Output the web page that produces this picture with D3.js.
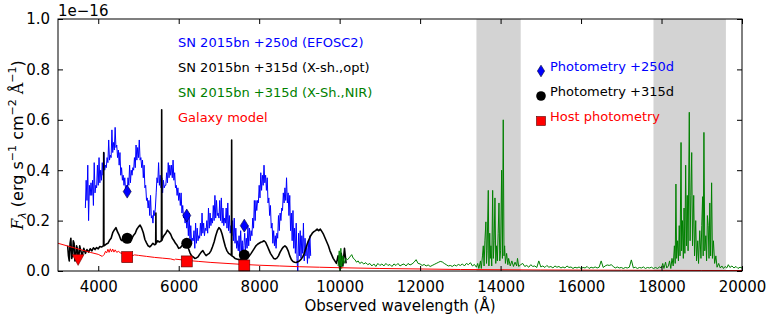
<!DOCTYPE html>
<html>
<head>
<meta charset="utf-8">
<script src="https://cdn.jsdelivr.net/npm/d3@7/dist/d3.min.js"></script>
<style>
  body { margin: 0; background: #fff; }
  svg text { font-family: "DejaVu Sans", sans-serif; }
</style>
</head>
<body>
<div id="chart"></div>
<script>
// ---- data (flux in units of 1e-16 erg/s/cm2/A) ----
const xTicks = [4000, 6000, 8000, 10000, 12000, 14000, 16000, 18000, 20000];
const yTicks = [0.0, 0.2, 0.4, 0.6, 0.8, 1.0];
const telluricBands = [[13400, 14500], [17800, 19600]];

const efosc250 = [[3680,.25],[3700,.36],[3720,.28],[3740,.42],[3760,.20],[3780,.34],[3800,.30],[3820,.35],
  [3840,.30],[3860,.36],[3880,.26],[3900,.43],[3920,.31],[3940,.34],[3960,.33],[3980,.42],[4000,.34],[4020,.45],
  [4040,.35],[4060,.40],[4080,.36],[4100,.43],[4120,.38],[4140,.47],[4160,.40],[4180,.42],[4200,.41],[4220,.45],
  [4240,.43],[4260,.52],[4280,.44],[4300,.46],[4320,.45],[4340,.56],[4360,.47],[4380,.51],[4400,.48],[4420,.57],
  [4440,.49],[4460,.50],[4480,.45],[4500,.48],[4520,.42],[4540,.47],[4560,.38],[4580,.41],[4600,.36],[4620,.38],
  [4640,.34],[4660,.37],[4680,.32],[4700,.34],[4720,.31],[4740,.37],[4760,.34],[4780,.42],[4800,.35],[4820,.40],
  [4840,.38],[4860,.41],[4880,.40],[4900,.45],[4920,.41],[4940,.50],[4960,.44],[4980,.49],[5000,.45],[5020,.52],
  [5040,.44],[5060,.45],[5080,.41],[5100,.44],[5120,.37],[5140,.42],[5160,.33],[5180,.34],[5200,.28],[5220,.29],
  [5240,.25],[5260,.28],[5280,.22],[5300,.30],[5320,.21],[5340,.22],[5360,.19],[5380,.24],[5400,.22],[5420,.25],
  [5440,.31],[5460,.37],[5480,.35],[5500,.43],[5520,.34],[5540,.38],[5560,.33],[5580,.37],[5600,.31],[5620,.36],
  [5640,.33],[5660,.34],[5680,.34],[5700,.39],[5720,.35],[5740,.43],[5760,.37],[5780,.42],[5800,.38],[5820,.42],
  [5840,.37],[5860,.44],[5880,.36],[5900,.39],[5920,.33],[5940,.34],[5960,.30],[5980,.33],[6000,.28],[6020,.31],
  [6040,.26],[6060,.31],[6080,.23],[6100,.26],[6120,.21],[6140,.22],[6160,.19],[6180,.23],[6200,.17],[6220,.21],
  [6240,.14],[6260,.23],[6280,.12],[6300,.18],[6320,.11],[6340,.13],[6360,.12],[6380,.16],[6400,.09],[6420,.19],
  [6440,.11],[6460,.17],[6480,.12],[6500,.14],[6520,.13],[6540,.19],[6560,.14],[6580,.23],[6600,.15],[6620,.19],
  [6640,.14],[6660,.17],[6680,.16],[6700,.20],[6720,.15],[6740,.25],[6760,.17],[6780,.23],[6800,.18],[6820,.21],
  [6840,.19],[6860,.26],[6880,.20],[6900,.30],[6920,.21],[6940,.28],[6960,.22],[6980,.23],[7000,.21],[7020,.28],
  [7040,.20],[7060,.29],[7080,.19],[7100,.25],[7120,.18],[7140,.21],[7160,.19],[7180,.25],[7200,.17],[7220,.27],
  [7240,.16],[7260,.22],[7280,.15],[7300,.18],[7320,.14],[7340,.20],[7360,.12],[7380,.21],[7400,.11],[7420,.17],
  [7440,.09],[7460,.12],[7480,.08],[7500,.14],[7520,.07],[7540,.16],[7560,.08],[7580,.12],[7600,.00],[7620,.10],
  [7640,.15],[7660,.08],[7680,.13],[7700,.09],[7720,.18],[7740,.10],[7760,.17],[7780,.12],[7800,.16],[7820,.14],
  [7840,.21],[7860,.17],[7880,.28],[7900,.20],[7920,.28],[7940,.24],[7960,.28],[7980,.27],[8000,.34],[8020,.29],
  [8040,.39],[8060,.32],[8080,.38],[8100,.34],[8120,.42],[8140,.35],[8160,.38],[8180,.32],[8200,.37],[8220,.27],
  [8240,.29],[8260,.22],[8280,.26],[8300,.17],[8320,.19],[8340,.11],[8360,.16],[8380,.10],[8400,.14],[8420,.09],
  [8440,.15],[8460,.13],[8480,.22],[8500,.16],[8520,.23],[8540,.20],[8560,.25],[8580,.24],[8600,.31],[8620,.27],
  [8640,.33],[8660,.28],[8680,.37],[8700,.27],[8720,.31],[8740,.22],[8760,.30],[8780,.16],[8800,.23],[8820,.12],
  [8840,.24],[8860,.09],[8880,.17],[8900,.07],[8920,.19],[8940,.05],[8960,-.01],[8980,.15],[9000,.06],[9020,.16],
  [9040,.05],[9060,.14],[9080,.07],[9100,.19],[9120,.04],[9140,.13],[9160,.06],[9180,.10],[9200,.03],[9220,.12],
  [9240,.05],[9260,.14],[9280,.06]];

const xshOpt315 = [[3240,.10],[3260,.06],[3280,.04],[3300,.11],[3320,.13],[3340,.05],[3360,.06],[3380,.12],[3400,.11],
  [3420,.04],[3440,.05],[3460,.10],[3480,.09],[3500,.05],[3520,.06],[3540,.10],
  [3560,.085],[3600,.06],[3640,.09],[3680,.07],[3720,.085],[3760,.075],[3800,.088],[3840,.08],[3880,.092],[3920,.085],
  [3960,.093],[4000,.088],[4040,.097],[4080,.095],[4130,.10],[4136,.47],[4142,.10],[4160,.102],[4200,.107],[4240,.11],
  [4280,.122],[4320,.13],[4360,.152],[4400,.163],[4440,.172],[4480,.155],[4520,.142],[4560,.125],[4600,.12],[4640,.127],
  [4680,.13],[4720,.133],[4760,.128],[4800,.136],[4840,.13],[4880,.142],[4920,.15],[4960,.166],[5000,.175],[5040,.182],
  [5080,.17],[5120,.152],[5160,.125],[5200,.112],[5240,.10],[5280,.096],[5320,.102],[5360,.11],[5400,.104],[5428,.106],
  [5433,.23],[5438,.11],[5480,.12],[5520,.115],[5570,.12],[5577,.64],[5584,.122],[5600,.13],[5640,.142],[5680,.15],
  [5720,.162],[5760,.155],[5800,.146],[5840,.13],[5880,.121],[5920,.11],[5960,.102],[6000,.09],[6040,.092],[6080,.10],
  [6120,.106],[6160,.11],[6200,.104],[6240,.09],[6280,.072],[6320,.06],[6360,.056],[6400,.05],[6440,.052],[6480,.056],
  [6520,.066],[6560,.075],[6600,.081],[6640,.07],[6680,.061],[6720,.066],[6760,.07],[6800,.08],[6840,.096],[6880,.115],
  [6920,.14],[6960,.16],[7000,.172],[7040,.165],[7080,.146],[7120,.12],[7160,.096],[7200,.08],[7240,.07],[7280,.066],
  [7310,.062],[7316,.52],[7322,.06],[7360,.056],[7400,.05],[7440,.048],[7480,.046],[7520,.045],[7560,.047],[7600,.05],
  [7640,.049],[7680,.052],[7720,.055],[7760,.061],[7800,.07],[7840,.08],[7880,.09],[7920,.10],[7960,.106],[8000,.11],
  [8040,.114],[8080,.116],[8120,.12],[8160,.114],[8200,.10],[8240,.085],[8280,.07],[8320,.06],[8360,.05],[8400,.048],
  [8440,.051],[8480,.06],[8520,.075],[8560,.086],[8600,.095],[8640,.10],[8680,.094],[8720,.08],[8760,.06],[8800,.045],
  [8840,.038],[8880,.035],[8920,.034],[8960,.037],[9000,.04],[9040,.046],[9080,.055],[9120,.07],[9160,.09],[9200,.11],
  [9240,.126],[9280,.14],[9320,.15],[9360,.156],[9400,.16],[9440,.166],[9480,.16],[9520,.166],[9560,.156],[9600,.145],
  [9640,.13],[9680,.115],[9720,.10],[9760,.08],[9800,.065],[9840,.05],[9880,.04],[9920,.03],[9960,.06],[10000,.01],
  [10040,.07],[10080,.02],[10120,.09],[10160,.03]];

const xshNir315 = [[9960,.02],[9990,.08],[10010,.00],[10030,.09],[10050,.01],[10080,.06],[10110,.03],[10150,.05],
  [10200,.045],[10250,.055],[10300,.065],[10340,.05],[10380,.045],[10420,.035],[10460,.04],[10500,.03],[10550,.035],
  [10600,.028],[10650,.033],[10700,.025],[10750,.03],[10800,.02],[10850,.028],[10900,.018],[10950,.03],[11000,.022],
  [11050,.028],[11100,.02],[11150,.03],[11200,.022],[11250,.026],[11300,.018],[11350,.028],[11400,.022],[11450,.03],
  [11500,.02],[11550,.025],[11600,.028],[11650,.02],[11700,.03],[11750,.024],[11800,.028],[11850,.035],[11900,.045],
  [11950,.03],[12000,.028],[12050,.022],[12100,.026],[12150,.02],[12200,.024],[12250,.018],[12300,.022],[12350,.026],
  [12400,.03],[12450,.034],[12500,.038],[12550,.036],[12600,.03],[12650,.025],[12700,.02],[12750,.022],[12800,.018],
  [12850,.024],[12900,.02],[12950,.026],[13000,.022],[13050,.028],[13100,.02],[13150,.03],[13200,.025],[13250,.033],
  [13300,.02],[13350,.026],[13400,.015],[13430,.03],[13460,.01],[13500,.04],[13520,.01],[13550,.06],[13570,.10],
  [13590,.02],[13610,.12],[13635,.195],[13650,.03],[13665,.08],[13694,.32],[13710,.02],[13730,.15],[13744,.05],
  [13760,.10],[13780,.02],[13803,.32],[13820,.05],[13840,.12],[13860,.29],[13880,.03],[13900,.10],[13920,.04],
  [13940,.15],[13960,.27],[13980,.04],[14000,.08],[14026,.40],[14045,.05],[14066,.60],[14085,.06],[14100,.10],
  [14120,.03],[14150,.07],[14180,.025],[14200,.05],[14240,.02],[14280,.04],[14320,.018],[14360,.035],[14400,.02],
  [14420,.05],[14450,.018],[14500,.025],[14550,.03],[14600,.018],[14650,.022],[14700,.015],[14750,.025],[14800,.018],
  [14850,.02],[14900,.014],[14950,.04],[15000,.016],[15050,.02],[15100,.014],[15150,.022],[15200,.015],[15250,.018],
  [15300,.012],[15350,.02],[15400,.015],[15450,.018],[15500,.012],[15550,.016],[15600,.012],[15650,.02],[15700,.014],
  [15750,.016],[15800,.01],[15850,.015],[15900,.012],[15950,.016],[16000,.01],[16050,.014],[16100,.012],[16150,.018],
  [16200,.01],[16250,.015],[16300,.012],[16350,.016],[16400,.012],[16450,.015],[16500,.04],[16550,.014],[16600,.02],
  [16650,.024],[16700,.022],[16750,.025],[16800,.018],[16850,.012],[16900,.016],[16950,.012],[17000,.014],[17050,.01],
  [17100,.014],[17150,.012],[17200,.015],[17250,.044],[17300,.012],[17350,.015],[17400,.01],[17450,.014],[17500,.012],
  [17550,.016],[17600,.01],[17650,.014],[17700,.012],[17750,.015],[17800,.01],[17850,.014],[17900,.01],[17950,.016],
  [18000,.012],[18030,.03],[18060,.01],[18100,.035],[18130,.012],[18170,.02],[18200,.04],[18230,.01],[18260,.05],
  [18290,.02],[18320,.10],[18340,.03],[18358,.345],[18375,.05],[18400,.12],[18420,.04],[18440,.18],[18460,.06],
  [18485,.51],[18500,.08],[18520,.20],[18542,.05],[18560,.25],[18580,.07],[18600,.42],[18620,.10],[18640,.30],
  [18660,.08],[18690,.63],[18710,.12],[18730,.30],[18750,.47],[18770,.10],[18800,.30],[18820,.06],[18850,.20],
  [18870,.04],[18900,.12],[18920,.03],[18950,.16],[18980,.05],[19000,.18],[19021,.295],[19035,.06],[19054,.55],
  [19075,.08],[19100,.14],[19120,.04],[19140,.22],[19160,.18],[19180,.05],[19200,.27],[19220,.06],[19245,.35],
  [19265,.05],[19290,.12],[19320,.03],[19350,.06],[19380,.015],[19420,.03],[19460,.012],[19500,.02],[19540,.01],
  [19580,.018],[19620,.012],[19660,.025],[19700,.014],[19750,.02],[19800,.012],[19850,.018],[19900,.01],[19950,.015],
  [20000,.012]];

const galaxyModel = [[3000,.110],[3200,.101],[3400,.092],[3600,.083],[3800,.074],[4000,.066],[4100,.058],[4150,.066],
  [4180,.078],[4210,.072],[4240,.086],[4270,.074],[4300,.088],[4330,.076],[4360,.087],[4390,.075],[4420,.084],
  [4460,.074],[4500,.078],[4560,.071],[4650,.068],[4750,.065],[4860,.061],[4900,.064],[5000,.062],[5200,.058],
  [5400,.054],[5600,.051],[5800,.048],[5890,.044],[5920,.047],[6200,.042],[6500,.038],[6800,.034],[7200,.030],
  [7600,.026],[8000,.023],[8500,.020],[9000,.017],[9500,.015],[10000,.013],[11000,.010],[12000,.008],[13000,.006],
  [14000,.005],[15000,.004],[16000,.0035],[17000,.003],[18000,.0025],[19000,.002],[20000,.002]];

const photBands = [4720, 6200, 7630];
const phot250 = [0.315, 0.22, 0.18];
const phot315 = [0.13, 0.11, 0.063];
const hostPhot = [0.055, 0.038, 0.022];
const hostULimit = [[3500, 0.046]];

const spectraLegend = ["SN 2015bn +250d (EFOSC2)", "SN 2015bn +315d (X-sh.,opt)",
  "SN 2015bn +315d (X-Sh.,NIR)", "Galaxy model"];
const spectraColors = ["#0000ff", "#000000", "#008000", "#ff0000"];
const photLegend = ["Photometry +250d", "Photometry +315d", "Host photometry"];

// ---- layout ----
const W = 772, H = 320;
const plot = {left: 58, right: 742, top: 19, bottom: 271};

const x = d3.scaleLinear().domain([3000, 20000]).range([plot.left, plot.right]);
const y = d3.scaleLinear().domain([0, 1]).range([plot.bottom, plot.top]);

const svg = d3.select('#chart').append('svg')
  .attr('width', W).attr('height', H);

svg.append('clipPath').attr('id', 'clip')
  .append('rect').attr('x', plot.left).attr('y', plot.top)
  .attr('width', plot.right - plot.left).attr('height', plot.bottom - plot.top);

// grey telluric bands
svg.append('g').selectAll('rect').data(telluricBands).enter().append('rect')
  .attr('x', d => x(d[0])).attr('width', d => x(d[1]) - x(d[0]))
  .attr('y', plot.top).attr('height', plot.bottom - plot.top)
  .attr('fill', '#d3d3d3');

const line = d3.line().x(d => x(d[0])).y(d => y(d[1]));
const specGroup = svg.append('g').attr('clip-path', 'url(#clip)');

[[efosc250, 0, 1], [xshOpt315, 1, 1.6], [xshNir315, 2, 1], [galaxyModel, 3, 1]].forEach(([data, i, w]) => {
  specGroup.append('path').datum(data)
    .attr('d', line)
    .attr('fill', 'none')
    .attr('stroke', spectraColors[i])
    .attr('stroke-width', w)
    .attr('stroke-linejoin', 'round');
});

// photometry markers
const diamond = (cx, cy, s) => `M${cx},${cy - s * 1.3} L${cx + s * 0.8},${cy} L${cx},${cy + s * 1.3} L${cx - s * 0.8},${cy} Z`;

const markGroup = svg.append('g');
photBands.forEach((w, i) => {
  markGroup.append('path').attr('d', diamond(x(w), y(phot250[i]), 5))
    .attr('fill', '#0000ff').attr('stroke', '#000033').attr('stroke-width', 0.6);
  markGroup.append('circle').attr('cx', x(w)).attr('cy', y(phot315[i])).attr('r', 5.5)
    .attr('fill', '#000');
  markGroup.append('rect').attr('x', x(w) - 5.5).attr('y', y(hostPhot[i]) - 5.5)
    .attr('width', 11).attr('height', 11)
    .attr('fill', '#ff0000').attr('stroke', '#550000').attr('stroke-width', 0.6);
});
hostULimit.forEach(d => {
  const cx = x(d[0]), cy = y(d[1]);
  markGroup.append('path').attr('d', `M${cx - 6},${cy - 5} L${cx + 6},${cy - 5} L${cx},${cy + 6} Z`)
    .attr('fill', '#ff0000').attr('stroke', '#550000').attr('stroke-width', 0.5);
});

// frame
svg.append('rect').attr('x', plot.left).attr('y', plot.top)
  .attr('width', plot.right - plot.left).attr('height', plot.bottom - plot.top)
  .attr('fill', 'none').attr('stroke', '#000').attr('stroke-width', 1);

// axes (ticks inside, mirrored)
const tickLen = 5;
const xAxisB = svg.append('g').attr('transform', `translate(0,${plot.bottom})`)
  .call(d3.axisBottom(x).tickValues(xTicks).tickSize(-tickLen).tickPadding(10).tickFormat(d3.format('d')));
const xAxisT = svg.append('g').attr('transform', `translate(0,${plot.top})`)
  .call(d3.axisTop(x).tickValues(xTicks).tickSize(-tickLen).tickFormat(''));
const yAxisL = svg.append('g').attr('transform', `translate(${plot.left},0)`)
  .call(d3.axisLeft(y).tickValues(yTicks).tickSize(-tickLen).tickPadding(8).tickFormat(d3.format('.1f')));
const yAxisR = svg.append('g').attr('transform', `translate(${plot.right},0)`)
  .call(d3.axisRight(y).tickValues(yTicks).tickSize(-tickLen).tickFormat(''));

[xAxisB, xAxisT, yAxisL, yAxisR].forEach(g => {
  g.select('.domain').remove();
  g.selectAll('text').attr('font-size', 15).attr('fill', '#000')
    .style('font-family', '"DejaVu Sans", sans-serif');
  g.selectAll('line').attr('stroke', '#000');
});

// offset text
svg.append('text').attr('x', plot.left).attr('y', 16)
  .attr('font-size', 15).text('1e\u221216');

// axis labels
svg.append('text').attr('x', (plot.left + plot.right) / 2).attr('y', 311)
  .attr('text-anchor', 'middle').attr('font-size', 15)
  .text('Observed wavelength (\u00c5)');

const yl = svg.append('text').attr('transform', `translate(23,${(plot.top + plot.bottom) / 2}) rotate(-90)`)
  .attr('text-anchor', 'middle').attr('font-size', 16);
yl.append('tspan').attr('font-style', 'italic').style('font-family', '"DejaVu Serif", serif').text('F');
yl.append('tspan').attr('font-size', 11).attr('dy', 3).attr('font-style', 'italic').text('\u03bb');
yl.append('tspan').attr('dy', -3).text(' (erg s');
yl.append('tspan').attr('font-size', 11).attr('dy', -7).text('\u22121');
yl.append('tspan').attr('dy', 7).text(' cm');
yl.append('tspan').attr('font-size', 11).attr('dy', -7).text('\u22122');
yl.append('tspan').attr('dy', 7).style('font-family', '"DejaVu Serif", serif').text(' \u00c5');
yl.append('tspan').attr('font-size', 11).attr('dy', -7).text('\u22121');
yl.append('tspan').attr('dy', 7).text(')');

// legend: spectra
const legY = [47, 72, 97, 122];
spectraLegend.forEach((t, i) => {
  svg.append('text').attr('x', 178).attr('y', legY[i]).attr('font-size', 13)
    .attr('fill', spectraColors[i]).text(t);
});

// legend: photometry
const pLegY = [71, 96, 121];
const pColors = ['#0000ff', '#000000', '#ff0000'];
photLegend.forEach((t, i) => {
  svg.append('text').attr('x', 550).attr('y', pLegY[i] - 0.5).attr('font-size', 13)
    .attr('fill', pColors[i]).text(t);
});
const lx = 541;
svg.append('path').attr('d', diamond(lx, pLegY[0], 4.5))
  .attr('fill', '#0000ff').attr('stroke', '#000033').attr('stroke-width', 0.6);
svg.append('circle').attr('cx', lx).attr('cy', pLegY[1]).attr('r', 4.8).attr('fill', '#000');
svg.append('rect').attr('x', lx - 4.5).attr('y', pLegY[2] - 4.5).attr('width', 9).attr('height', 9)
  .attr('fill', '#ff0000').attr('stroke', '#550000').attr('stroke-width', 0.6);
</script>
</body>
</html>
